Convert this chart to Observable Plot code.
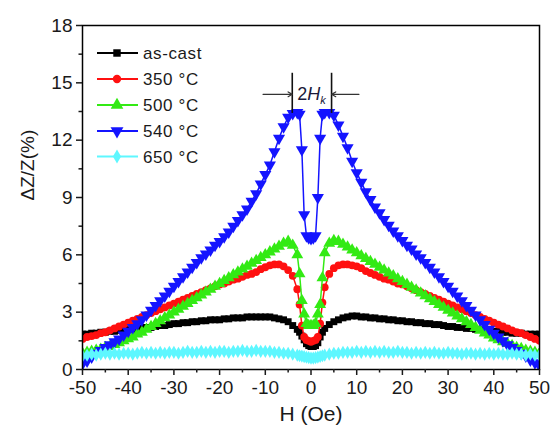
<!DOCTYPE html>
<html><head><meta charset="utf-8">
<script src="https://cdn.jsdelivr.net/npm/d3@7"></script>
<script src="https://cdn.jsdelivr.net/npm/@observablehq/plot@0.6"></script>
<style>
html,body{margin:0;padding:0;background:#fff;}
#chart{width:554px;height:434px;}
</style></head><body><div id="chart"></div>
<script>
// Magnetic field H (Oe)
const field = [
  -50,-49,-48,-47,-46,-45,-44,-43,-42,-41,
  -40,-39,-38,-37,-36,-35,-34,-33,-32,-31,
  -30,-29,-28,-27,-26,-25,-24,-23,-22,-21,
  -20,-19,-18,-17,-16,-15,-14,-13,-12,-11,
  -10,-9,-8,-7,-6,-5,-4,-3,
  -2.5,-2,-1.5,-1,-0.5,0,0.5,1,1.5,2,2.5,
  3,4,5,6,7,8,9,10,11,12,
  13,14,15,16,17,18,19,20,21,22,
  23,24,25,26,27,28,29,30,31,32,
  33,34,35,36,37,38,39,40,41,42,
  43,44,45,46,47,48,49,50
];
// ΔZ/Z (%) series
const asCast = [
  1.85,1.85,1.9,1.9,1.95,1.95,2.0,2.0,2.05,2.05,
  2.1,2.1,2.15,2.15,2.2,2.2,2.25,2.3,2.3,2.35,
  2.4,2.4,2.45,2.45,2.5,2.5,2.55,2.55,2.6,2.6,
  2.6,2.65,2.65,2.7,2.7,2.7,2.75,2.75,2.75,2.75,
  2.75,2.75,2.7,2.65,2.6,2.5,2.3,2.1,
  1.95,1.75,1.55,1.35,1.25,1.2,1.2,1.25,1.4,1.7,1.95,
  2.15,2.35,2.5,2.6,2.7,2.75,2.8,2.8,2.75,2.75,
  2.7,2.7,2.65,2.65,2.6,2.6,2.55,2.55,2.5,2.5,
  2.45,2.45,2.4,2.4,2.35,2.35,2.3,2.25,2.25,2.2,
  2.2,2.15,2.15,2.1,2.1,2.05,2.05,2.0,2.0,1.95,
  1.95,1.9,1.9,1.9,1.85,1.85,1.85,1.85
];
const t350 = [
  1.6,1.7,1.75,1.8,1.9,1.95,2.05,2.15,2.25,2.35,
  2.45,2.55,2.65,2.75,2.85,2.95,3.05,3.15,3.25,3.35,
  3.45,3.55,3.65,3.75,3.85,3.95,4.05,4.15,4.25,4.35,
  4.45,4.5,4.6,4.7,4.75,4.85,4.95,5.0,5.1,5.25,
  5.35,5.45,5.5,5.5,5.4,5.2,4.9,4.2,
  3.4,2.3,1.7,1.55,1.5,1.45,1.5,1.55,1.7,2.4,3.5,
  4.3,5.0,5.3,5.45,5.5,5.5,5.45,5.4,5.3,5.15,
  5.05,4.95,4.85,4.75,4.7,4.6,4.5,4.45,4.35,4.25,
  4.15,4.05,3.95,3.85,3.75,3.65,3.55,3.45,3.35,3.25,
  3.15,3.05,2.95,2.85,2.75,2.65,2.55,2.45,2.35,2.25,
  2.15,2.05,1.95,1.9,1.8,1.7,1.6,1.5
];
const t500 = [
  0.85,0.9,0.95,1.0,1.05,1.15,1.2,1.3,1.4,1.5,
  1.6,1.7,1.85,1.95,2.1,2.25,2.4,2.55,2.7,2.85,
  3.0,3.15,3.3,3.45,3.6,3.75,3.9,4.05,4.2,4.35,
  4.5,4.65,4.8,4.95,5.1,5.25,5.4,5.55,5.7,5.85,
  6.0,6.15,6.3,6.45,6.6,6.7,6.5,6.0,
  5.0,3.6,2.9,2.4,2.3,2.3,2.3,2.4,2.9,3.4,4.8,
  6.1,6.6,6.75,6.7,6.55,6.4,6.25,6.1,5.95,5.8,
  5.65,5.5,5.35,5.2,5.05,4.9,4.75,4.6,4.45,4.3,
  4.15,4.0,3.85,3.7,3.55,3.4,3.25,3.1,2.95,2.8,
  2.65,2.5,2.35,2.2,2.05,1.9,1.8,1.65,1.55,1.45,
  1.35,1.25,1.15,1.1,1.0,0.95,0.9,0.85
];
const t540 = [
  0.3,0.45,0.65,0.85,1.0,1.15,1.3,1.45,1.6,1.8,
  2.0,2.2,2.4,2.6,2.85,3.1,3.35,3.6,3.85,4.1,
  4.35,4.6,4.85,5.1,5.35,5.6,5.85,6.05,6.25,6.5,
  6.7,6.95,7.2,7.5,7.8,8.1,8.4,8.8,9.2,9.7,
  10.2,10.7,11.4,12.1,12.7,13.2,13.4,13.45,
  13.35,11.5,8.1,7.0,6.9,6.85,6.9,7.0,9.0,12.1,13.35,
  13.45,13.45,13.3,12.8,12.2,11.6,10.9,10.3,9.8,9.3,
  8.9,8.5,8.2,7.85,7.55,7.25,7.0,6.75,6.5,6.3,
  6.05,5.85,5.6,5.35,5.1,4.85,4.6,4.35,4.1,3.85,
  3.6,3.35,3.1,2.85,2.6,2.35,2.1,1.9,1.7,1.5,
  1.3,1.15,1.0,0.85,0.7,0.5,0.35,0.2
];
const t650 = [
  0.7,0.75,0.8,0.75,0.8,0.85,0.8,0.85,0.8,0.85,
  0.85,0.8,0.85,0.9,0.85,0.9,0.85,0.9,0.85,0.9,
  0.9,0.85,0.9,0.95,0.9,0.9,0.95,0.9,0.95,0.9,
  0.95,0.95,0.9,0.95,0.95,1.0,0.95,0.95,1.0,0.95,
  0.95,0.95,0.9,0.9,0.85,0.85,0.8,0.75,
  0.72,0.7,0.67,0.64,0.62,0.6,0.6,0.62,0.65,0.68,0.72,
  0.75,0.8,0.85,0.85,0.9,0.9,0.9,0.95,0.9,0.95,
  0.9,0.95,0.9,0.95,0.9,0.9,0.95,0.9,0.9,0.85,
  0.9,0.85,0.9,0.85,0.9,0.85,0.85,0.9,0.85,0.85,
  0.8,0.85,0.85,0.8,0.85,0.8,0.85,0.8,0.85,0.8,
  0.8,0.85,0.8,0.8,0.75,0.8,0.75,0.75
];
const seriesNames = ["as-cast", "350 °C", "500 °C", "540 °C", "650 °C"];
const seriesValues = [asCast, t350, t500, t540, t650];
const seriesColors = ["#000000", "#ff1010", "#33ea14", "#1414ff", "#5ef7ff"];
const yTicks = [0, 3, 6, 9, 12, 15, 18];
const yMinorTicks = [1.5, 4.5, 7.5, 10.5, 13.5, 16.5];
const xTicks = [-50, -40, -30, -20, -10, 0, 10, 20, 30, 40, 50];
const xMinorTicks = [-45, -35, -25, -15, -5, 5, 15, 25, 35, 45];
// 2Hk annotation (field positions of the two peaks, arrow ends, levels)
const hkLines = [-4.1, 4.5];
const hkArrowFrom = [-10.5, 10.5];
const hkLevel = 14.4, hkLineBottom = 13.4, hkLineTop = 15.5;

const triDown = {
  draw(context, size) {
    const y = -Math.sqrt(size / (Math.sqrt(3) * 3));
    context.moveTo(0, -y * 2);
    context.lineTo(-Math.sqrt(3) * y, y);
    context.lineTo(Math.sqrt(3) * y, y);
    context.closePath();
  }
};
const plotSymbols = ["square", "circle", "triangle", triDown, "diamond"];
const d3Symbols = [d3.symbolSquare, d3.symbolCircle, d3.symbolTriangle, triDown, d3.symbolDiamond];
const symbolR = [3.9, 3.9, 4.4, 4.5, 4.0];

const seriesMarks = [];
seriesNames.forEach((name, i) => {
  const rows = field.map((h, j) => ({H: h, v: seriesValues[i][j], s: name}));
  seriesMarks.push(Plot.line(rows, {x: "H", y: "v", stroke: seriesColors[i], strokeWidth: 1.5, clip: true}));
  seriesMarks.push(Plot.dot(rows, {x: "H", y: "v", symbol: plotSymbols[i], r: symbolR[i], fill: seriesColors[i], clip: true}));
});

const chart = Plot.plot({
  width: 554, height: 434,
  marginLeft: 82, marginRight: 15, marginTop: 25, marginBottom: 65,
  x: {domain: [-50, 50]},
  y: {domain: [0, 18]},
  style: {fontFamily: "'Liberation Sans', Arial, sans-serif", fontSize: "19px", color: "#1a1a1a", background: "#fff"},
  marks: [
    ...seriesMarks,
    Plot.ruleX(hkLines, {y1: hkLineBottom, y2: hkLineTop, stroke: "#111", strokeWidth: 1.6}),
    Plot.arrow(hkLines, {x1: (d, i) => hkArrowFrom[i], x2: d => d, y1: hkLevel, y2: hkLevel, stroke: "#333", strokeWidth: 1.2, headLength: 6}),
    Plot.frame({stroke: "#000", strokeWidth: 1.5}),
    Plot.axisX({ticks: xTicks, tickSize: 6, tickPadding: 5, tickFormat: d => String(d), fontSize: 19, label: null, strokeWidth: 1.5}),
    Plot.axisX({ticks: xMinorTicks, tickSize: 3.5, tickFormat: () => "", label: null, strokeWidth: 1.5}),
    Plot.axisY({ticks: yTicks, tickSize: 6, tickPadding: 4, tickFormat: d => String(d), fontSize: 19, label: null, strokeWidth: 1.5}),
    Plot.axisY({ticks: yMinorTicks, tickSize: 3.5, tickFormat: () => "", label: null, strokeWidth: 1.5}),
    Plot.text(["H (Oe)"], {frameAnchor: "bottom", dy: 51, fontSize: 21, fill: "#1a1a1a"}),
    Plot.text(["ΔZ/Z(%)"], {frameAnchor: "left", dx: -55, dy: 3, rotate: -90, fontSize: 19, fill: "#1a1a1a"})
  ]
});

document.getElementById("chart").appendChild(chart);

// 2Hk label
const sx = chart.scale("x"), sy = chart.scale("y");
const svg = d3.select(chart);
const lab = svg.append("text")
  .attr("x", sx.apply(0.2)).attr("y", sy.apply(hkLevel) + 6)
  .attr("text-anchor", "middle").attr("font-size", 18).attr("fill", "#1a1a3a");
lab.append("tspan").text("2");
lab.append("tspan").attr("font-style", "italic").text("H");
lab.append("tspan").attr("font-style", "italic").attr("font-size", 11).attr("dy", 4).text("k");

// Legend
const lg = svg.append("g").attr("text-anchor", "start");
const rowY = [53, 79, 105, 131, 156.5];
seriesNames.forEach((name, i) => {
  const y = rowY[i];
  lg.append("line").attr("x1", 97).attr("x2", 138).attr("y1", y).attr("y2", y)
    .attr("stroke", seriesColors[i]).attr("stroke-width", 1.8);
  lg.append("path").attr("transform", `translate(117,${y})`)
    .attr("d", d3.symbol(d3Symbols[i], Math.PI * Math.pow(symbolR[i] + 0.3, 2))())
    .attr("fill", seriesColors[i]);
  lg.append("text").attr("x", 143).attr("y", y).attr("dy", "0.36em").attr("text-anchor", "start")
    .attr("font-size", 17).attr("letter-spacing", 0.6).attr("fill", "#1a1a1a").text(name);
});
</script></body></html>
